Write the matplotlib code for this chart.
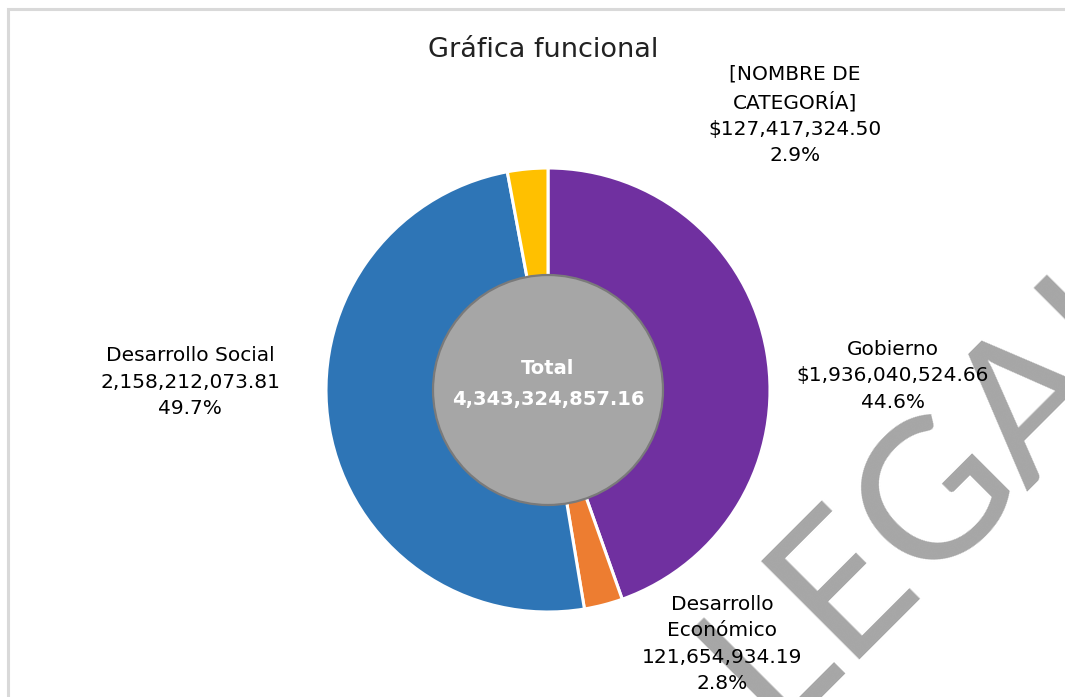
import matplotlib
matplotlib.use("Agg")
import matplotlib.pyplot as plt
from matplotlib.patches import Circle, Rectangle

# ---- data ----
categories = ["Gobierno", "Desarrollo\nEconómico", "Desarrollo Social", "[NOMBRE DE\nCATEGORÍA]"]
values = [1936040524.66, 121654934.19, 2158212073.81, 127417324.50]
prefixes = ["$", "", "", "$"]
colors = ["#7030A0", "#ED7D31", "#2E75B6", "#FFC000"]
title = "Gráfica funcional"
center_title = "Total"
watermark = "LEGAL"

W, H = 1065, 697
fig = plt.figure(figsize=(W / 100, H / 100), dpi=100)
ax = fig.add_axes([0, 0, 1, 1])
ax.set_xlim(0, W)
ax.set_ylim(0, H)
ax.axis("off")

def Y(y):
    return H - y

# frame
ax.add_patch(Rectangle((8, Y(H + 20)), W + 20, H + 20 - 9, fill=False,
                       edgecolor="#d9d9d9", linewidth=2.2, zorder=0))

cx, cy, R, r_in = 548, Y(390), 222, 112
ax.pie(values, colors=colors, startangle=90, counterclock=False,
       radius=R, center=(cx, cy),
       wedgeprops=dict(width=R - r_in, edgecolor="white", linewidth=2.2))
ax.add_patch(Circle((cx, cy), 115, facecolor="#a6a6a6", edgecolor="#7a7a7a",
                    linewidth=1.6, zorder=5))

total = sum(values)
ax.text(cx, Y(368), center_title, ha="center", va="center", color="white",
        fontsize=14, fontweight="bold", zorder=6)
ax.text(cx, Y(400), f"{total:,.2f}", ha="center", va="center", color="white",
        fontsize=14, fontweight="bold", zorder=6)

ax.set_xlim(0, W)
ax.set_ylim(0, H)
ax.set_aspect("auto")

# labels
label_pos = [(893, 376), (722, 644), (190, 382), (795, 115)]
for cat, v, p, (lx, ly) in zip(categories, values, prefixes, label_pos):
    txt = f"{cat}\n{p}{v:,.2f}\n{v / total * 100:.1f}%"
    ax.text(lx, Y(ly), txt, ha="center", va="center", fontsize=14.5,
            color="black", linespacing=1.5, zorder=7)

ax.text(543, Y(50), title, ha="center", va="center", fontsize=19.5,
        color="#222222", zorder=7)

# watermark
ax.text(940, Y(484), watermark, ha="center", va="center", rotation=45,
        rotation_mode="anchor", fontsize=140, color="#a6a6a6",
        family="Lato", zorder=1, clip_on=True)

fig.savefig("out.png", dpi=100)
